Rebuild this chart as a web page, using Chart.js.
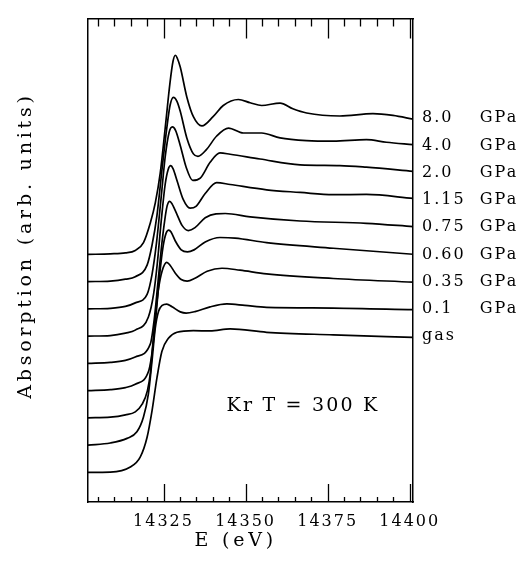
<!DOCTYPE html>
<html><head><meta charset="utf-8">
<script src="https://cdn.jsdelivr.net/npm/chart.js@4/dist/chart.umd.min.js"></script>
<style>html,body{margin:0;padding:0;background:#fff;}canvas{display:block;}</style>
</head><body>
<canvas id="c" width="525" height="565"></canvas>
<script>
// ---- data ----
const pressureLabels = ['8.0', '4.0', '2.0', '1.15', '0.75', '0.60', '0.35', '0.1', 'gas'];
const pressureUnit = 'GPa';
const offsetStep = 0.2;           // vertical stacking step (arb. units)
const xTickLabels = [14325, 14350, 14375, 14400];

const energy80 = [14302, 14308.8, 14313.4, 14316.4, 14318.9, 14321.0, 14322.5, 14324.0, 14325.5, 14327.0, 14327.9, 14328.6, 14329.2, 14330.1, 14332.1, 14334.1, 14336.7, 14340.1, 14343.2, 14347.8, 14351.4, 14354.9, 14360.5, 14364.4, 14368.6, 14378.7, 14388.8, 14394.9, 14401];
const abs80    = [0, 0.004, 0.011, 0.029, 0.087, 0.233, 0.378, 0.596, 0.924, 1.265, 1.418, 1.462, 1.440, 1.375, 1.156, 1.011, 0.943, 1.011, 1.093, 1.137, 1.113, 1.093, 1.111, 1.069, 1.038, 1.016, 1.033, 1.020, 0.993];

const energy40 = [14302, 14308.8, 14313.4, 14316.4, 14320.0, 14321.5, 14323.0, 14324.6, 14326.0, 14327.0, 14328.0, 14329.1, 14330.1, 14332.1, 14334.1, 14335.5, 14338.0, 14341.2, 14344.8, 14349.3, 14354.9, 14360.5, 14368.6, 14376.7, 14386.8, 14392.9, 14401];
const abs40    = [0, 0.004, 0.018, 0.036, 0.121, 0.267, 0.485, 0.836, 1.127, 1.295, 1.353, 1.324, 1.251, 1.055, 0.938, 0.920, 0.967, 1.069, 1.127, 1.091, 1.091, 1.055, 1.035, 1.031, 1.042, 1.023, 1.006];

const energy20 = [14302, 14308.8, 14313.4, 14316.4, 14320.0, 14321.5, 14322.8, 14324.3, 14325.5, 14326.7, 14327.7, 14328.7, 14330.1, 14331.9, 14333.9, 14336.2, 14339.2, 14342.2, 14345.3, 14354.4, 14366.6, 14378.7, 14386.8, 14401];
const abs20    = [0, 0.004, 0.018, 0.044, 0.107, 0.252, 0.471, 0.822, 1.113, 1.295, 1.336, 1.309, 1.2, 1.04, 0.943, 0.960, 1.076, 1.145, 1.135, 1.100, 1.057, 1.052, 1.040, 1.009];

const energy115 = [14302, 14308.8, 14313.4, 14316.4, 14320.4, 14322.0, 14323.1, 14324.3, 14325.5, 14326.4, 14327.2, 14327.9, 14329.2, 14331.0, 14333.1, 14334.9, 14337.7, 14341.2, 14345.3, 14356.4, 14366.6, 14376.7, 14386.8, 14401];
const abs115    = [0, 0.004, 0.022, 0.044, 0.140, 0.311, 0.531, 0.844, 1.113, 1.222, 1.251, 1.229, 1.135, 1.004, 0.940, 0.953, 1.047, 1.127, 1.113, 1.074, 1.055, 1.038, 1.040, 1.011];

const energy075 = [14302, 14308.8, 14313.4, 14316.4, 14321.0, 14322.2, 14323.2, 14324.3, 14325.4, 14326.1, 14326.9, 14327.6, 14328.9, 14330.7, 14332.6, 14334.6, 14337.7, 14341.0, 14343.8, 14351.4, 14366.6, 14386.8, 14401];
const abs075    = [0, 0.007, 0.022, 0.047, 0.143, 0.327, 0.567, 0.836, 1.055, 1.156, 1.189, 1.171, 1.105, 1.011, 0.975, 0.996, 1.069, 1.098, 1.100, 1.076, 1.045, 1.028, 1.004];

const energy060 = [14302, 14308.8, 14313.4, 14316.4, 14320.5, 14321.7, 14322.8, 14323.8, 14324.9, 14325.8, 14326.6, 14327.3, 14328.6, 14330.4, 14332.3, 14334.3, 14337.7, 14342.2, 14346.8, 14356.4, 14376.7, 14401];
const abs060    = [0, 0.007, 0.022, 0.047, 0.145, 0.313, 0.575, 0.844, 1.062, 1.156, 1.178, 1.164, 1.098, 1.033, 1.018, 1.033, 1.091, 1.124, 1.120, 1.086, 1.045, 1.001];

const energy035 = [14302, 14308.8, 14313.4, 14316.4, 14318.5, 14320.1, 14321.0, 14321.6, 14322.5, 14323.5, 14324.6, 14326.0, 14327.0, 14328.6, 14330.4, 14332.2, 14334.6, 14338.3, 14342.8, 14348.3, 14356.4, 14376.7, 14401];
const abs035    = [0, 0.005, 0.022, 0.044, 0.10, 0.2, 0.33, 0.5, 0.74, 0.95, 1.08, 1.142, 1.120, 1.062, 1.015, 1.004, 1.025, 1.076, 1.098, 1.084, 1.057, 1.023, 0.996];

const energy01 = [14302, 14308.8, 14313.9, 14316.9, 14318.9, 14320.4, 14321.5, 14322.5, 14323.5, 14324.6, 14326.0, 14327.6, 14330.1, 14331.9, 14334.6, 14339.2, 14344.3, 14349.8, 14356.4, 14376.7, 14401];
const abs01    = [0, 0.015, 0.049, 0.097, 0.206, 0.376, 0.618, 0.86, 0.982, 1.025, 1.035, 1.015, 0.978, 0.969, 0.98, 1.015, 1.036, 1.025, 1.011, 1.006, 0.994];

const energyGas = [14302, 14308.8, 14314.9, 14317.9, 14320.0, 14321.5, 14323.0, 14324.5, 14326.5, 14329.1, 14334.1, 14339.2, 14345.3, 14356.4, 14376.7, 14401];
const absGas    = [0, 0.002, 0.039, 0.111, 0.257, 0.451, 0.693, 0.887, 0.984, 1.028, 1.04, 1.038, 1.053, 1.028, 1.009, 0.990];

const annotationText = 'Kr T = 300 K';
const annotationE = 14367.5;
const annotationA = 0.49;

// ---- build datasets ----
const energies = [energy80, energy40, energy20, energy115, energy075, energy060, energy035, energy01, energyGas];
const absorb   = [abs80, abs40, abs20, abs115, abs075, abs060, abs035, abs01, absGas];
const nCurves = pressureLabels.length;
const offsets = pressureLabels.map((_, i) => (nCurves - 1 - i) * offsetStep);

const datasets = pressureLabels.map((p, i) => ({
  label: p,
  data: energies[i].map((e, k) => ({x: e, y: absorb[i][k] + offsets[i]})),
  borderColor: '#000',
  borderWidth: 1.7,
  pointRadius: 0,
  fill: false,
  cubicInterpolationMode: 'monotone',
  yAxisID: 'y'
}));

const labelValues = offsets.map(o => o + 1.0);
const labelTexts = pressureLabels.map(p => p === 'gas' ? 'gas' : p + '\u2007'.repeat(Math.max(0, 4 - p.length)) + '  ' + pressureUnit);

const FONT = "'DejaVu Serif', serif";
const Y_MIN = -0.218, Y_MAX = 3.331;
const X_MIN = 14302, X_MAX = 14401;

// letter spacing per scale part (the reference uses a wide plotting font)
const spacing = {x: {labels: '2px', title: '3.8px'}, y: {title: '3.8px'}, yR: {labels: '2px'}};

const spacingPlugin = {
  id: 'spacing',
  beforeDraw(chart) {
    const ctx = chart.ctx;
    Object.keys(chart.scales).forEach(id => {
      const s = chart.scales[id];
      if (s._lsPatched) return;
      s._lsPatched = true;
      const sp = spacing[id] || {};
      const dt = s.drawTitle, dl = s.drawLabels;
      s.drawTitle = function (...a) {
        ctx.letterSpacing = sp.title || '0px';
        dt.apply(this, a);
        ctx.letterSpacing = '0px';
      };
      s.drawLabels = function (...a) {
        ctx.letterSpacing = sp.labels || '0px';
        dl.apply(this, a);
        ctx.letterSpacing = '0px';
      };
    });
  }
};

const tickPlugin = {
  id: 'inTicks',
  afterDraw(chart) {
    const {ctx, chartArea} = chart;
    const xs = chart.scales.x;
    ctx.save();
    ctx.strokeStyle = '#000';
    ctx.lineWidth = 1.3;
    ctx.beginPath();
    xs.ticks.forEach(t => {
      const px = Math.round(xs.getPixelForValue(t.value)) + 0.5;
      const major = xTickLabels.includes(t.value);
      const lb = major ? 18 : 5, lt = major ? 20 : 8;
      ctx.moveTo(px, chartArea.bottom); ctx.lineTo(px, chartArea.bottom - lb);
      ctx.moveTo(px, chartArea.top); ctx.lineTo(px, chartArea.top + lt);
    });
    ctx.stroke();
    // annotation text
    ctx.letterSpacing = '2.2px';
    ctx.fillStyle = '#000';
    ctx.font = "19px " + FONT;
    ctx.textAlign = 'center';
    ctx.textBaseline = 'middle';
    ctx.fillText(annotationText, xs.getPixelForValue(annotationE), chart.scales.y.getPixelForValue(annotationA));
    ctx.letterSpacing = '0px';
    ctx.restore();
  }
};

new Chart(document.getElementById('c'), {
  type: 'line',
  data: {datasets},
  options: {
    responsive: false,
    animation: false,
    devicePixelRatio: 1,
    layout: {padding: 0},
    plugins: {legend: {display: false}, tooltip: {enabled: false}},
    scales: {
      x: {
        type: 'linear', position: 'bottom', min: X_MIN, max: X_MAX,
        afterFit: s => { s.height = 63; },
        grid: {display: false, drawTicks: false},
        border: {display: true, color: '#000', width: 1.5},
        ticks: {
          stepSize: 5, includeBounds: false, autoSkip: false, maxRotation: 0, padding: 10,
          color: '#000', font: {family: FONT, size: 16},
          callback: v => xTickLabels.includes(v) ? String(v) : ''
        },
        title: {display: true, text: 'E (eV)   ', color: '#000', font: {family: FONT, size: 19}, padding: {top: 0, bottom: 13}}
      },
      xTop: {
        type: 'linear', position: 'top', min: X_MIN, max: X_MAX,
        afterFit: s => { s.height = 14; },
        grid: {display: false, drawTicks: false},
        border: {display: true, color: '#000', width: 1.5},
        ticks: {display: false}
      },
      y: {
        type: 'linear', position: 'left', min: Y_MIN, max: Y_MAX,
        afterFit: s => { s.width = 88; },
        grid: {display: false, drawTicks: false},
        border: {display: true, color: '#000', width: 1.5},
        ticks: {display: false},
        title: {display: true, text: '   Absorption (arb. units)', color: '#000', font: {family: FONT, size: 19}, padding: {top: 15, bottom: 0}}
      },
      yR: {
        type: 'linear', position: 'right', min: Y_MIN, max: Y_MAX,
        afterFit: s => { s.width = 112; },
        afterBuildTicks: s => { s.ticks = labelValues.map(v => ({value: v})); },
        grid: {display: false, drawTicks: false},
        border: {display: true, color: '#000', width: 1.5},
        ticks: {
          autoSkip: false, padding: 9, color: '#000', font: {family: FONT, size: 16},
          callback: (v, i) => labelTexts[i]
        }
      }
    }
  },
  plugins: [spacingPlugin, tickPlugin]
});
</script>
</body></html>
